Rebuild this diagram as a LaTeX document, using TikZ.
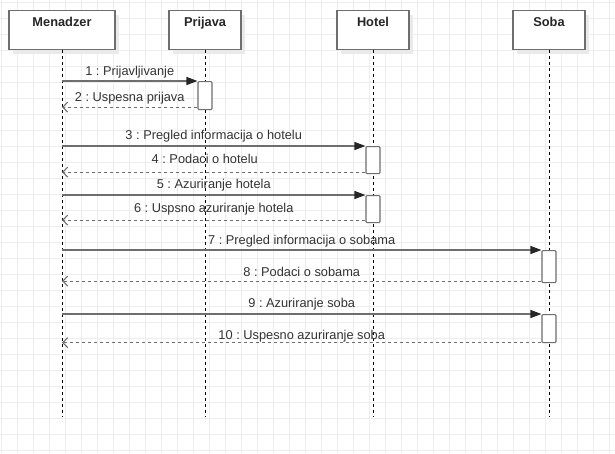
\documentclass[tikz,border=0pt]{standalone}
\usepackage{fontspec}
\setmainfont{Liberation Sans}
\frenchspacing
\usetikzlibrary{arrows.meta,shadows}
\definecolor{gridc}{HTML}{EDEDED}
\definecolor{edge}{HTML}{6E6E6E}
\definecolor{ink}{HTML}{333333}
\definecolor{shade}{HTML}{EAEAEA}
\begin{document}
\begin{tikzpicture}[x=1pt,y=-1pt,
  gridline/.style={draw=gridc, line width=0.8pt},
  head/.style={draw=edge, line width=1.1pt, fill=white, minimum width=72pt,
    inner xsep=0pt, inner ysep=0pt, text height=16pt, text depth=23pt,
    font=\fontsize{12.8}{15}\selectfont\bfseries, text=black!85,
    drop shadow={shadow xshift=4pt, shadow yshift=-4pt, fill=shade, opacity=1}},
  lifeline/.style={draw=black, line width=0.9pt, dash pattern=on 3pt off 3pt},
  act/.style={draw=edge, line width=1.1pt, fill=white, minimum width=14pt,
    inner sep=0pt, rounded corners=1pt, anchor=north},
  call/.style={draw=edge, line width=1.1pt,
    -{Triangle[length=11pt,width=8pt,color=black!85]}},
  ret/.style={draw=edge, line width=1.1pt, dash pattern=on 3pt off 3pt,
    -{Straight Barb[length=5pt,width=10pt,line width=1pt]}},
  lbl/.style={midway, anchor=base, yshift=#1, inner sep=0pt, text=ink,
    font=\fontsize{12.8}{15}\selectfont},
  lbl/.default=6pt]

% canvas
\useasboundingbox (0,0) rectangle (615,453);
\fill[white] (0,0) rectangle (615,453);
\foreach \k in {0,...,38} \draw[gridline] (1.5+16*\k,0) -- (1.5+16*\k,453);
\foreach \k in {0,...,28} \draw[gridline] (0,2+16*\k) -- (615,2+16*\k);

% participants
\node[head, minimum width=106pt, anchor=north] (m) at (62,10) {Menadzer};
\node[head, anchor=north] (p) at (205,10) {Prijava};
\node[head, anchor=north] (h) at (373,10) {Hotel};
\node[head, anchor=north] (s) at (549,10) {Soba};

% lifelines
\coordinate (mEnd) at (62,417);
\coordinate (pEnd) at (205,417);
\coordinate (hEnd) at (373,417);
\coordinate (sEnd) at (549,417);
\draw[lifeline] (m.south) -- (mEnd);
\draw[lifeline] (p.south) -- (pEnd);
\draw[lifeline] (h.south) -- (hEnd);
\draw[lifeline] (s.south) -- (sEnd);

% activation bars
\node[act, minimum height=28pt] (a1) at (205,81) {};
\node[act, minimum height=27pt] (a2) at (373,146) {};
\node[act, minimum height=27pt] (a3) at (373,195) {};
\node[act, minimum height=32pt] (a4) at (549,250) {};
\node[act, minimum height=28pt] (a5) at (549,314) {};

% return points
\coordinate (r1) at ([yshift=3pt]a1.south west);
\coordinate (r2) at ([yshift=2pt]a2.south west);
\coordinate (r3) at ([yshift=3pt]a3.south west);
\coordinate (r4) at ([yshift=2pt]a4.south west);
\coordinate (r5) at ([yshift=0.5pt]a5.south west);

% messages
\draw[call] (m.south |- a1.north west) -- (a1.north west)
  node[lbl=5.5pt] {1 : Prijavljivanje};
\draw[ret] (r1) -- (m.south |- r1)
  node[lbl=6pt] {2 : Uspesna prijava};

\draw[call] (m.south |- a2.north west) -- (a2.north west)
  node[lbl=7pt] {3 : Pregled informacija o hotelu};
\draw[ret] (r2) -- (m.south |- r2)
  node[lbl=8.5pt, xshift=-9pt] {4 : Podaci o hotelu};

\draw[call] (m.south |- a3.north west) -- (a3.north west)
  node[lbl=7pt] {5 : Azuriranje hotela};
\draw[ret] (r3) -- (m.south |- r3)
  node[lbl=7.5pt] {6 : Uspsno azuriranje hotela};

\draw[call] (m.south |- a4.north west) -- (a4.north west)
  node[lbl=6pt] {7 : Pregled informacija o sobama};
\draw[ret] (r4) -- (m.south |- r4)
  node[lbl=5pt] {8 : Podaci o sobama};

\draw[call] (m.south |- a5.north west) -- (a5.north west)
  node[lbl=6.5pt] {9 : Azuriranje soba};
\draw[ret] (r5) -- (m.south |- r5)
  node[lbl=3pt] {10 : Uspesno azuriranje soba};
\end{tikzpicture}
\end{document}
